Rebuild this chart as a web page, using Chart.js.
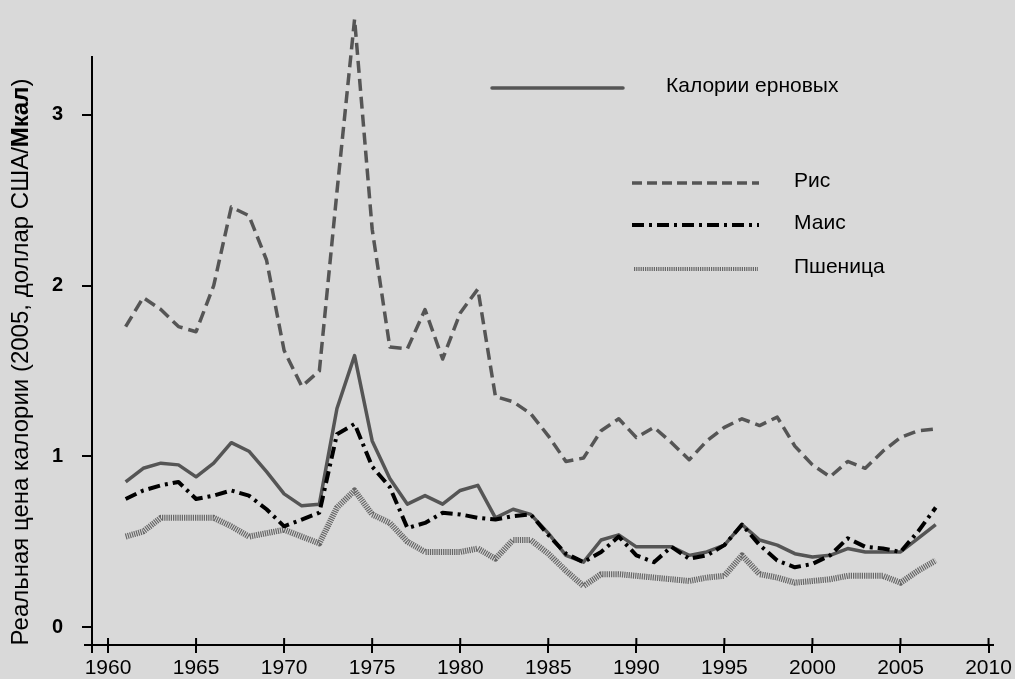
<!DOCTYPE html>
<html>
<head>
<meta charset="utf-8">
<script src="https://cdn.jsdelivr.net/npm/chart.js@4/dist/chart.umd.min.js"></script>
<style>
  body { margin: 0; background: #d9d9d9; }
  #wrap { width: 1015px; height: 679px; position: relative; }
</style>
</head>
<body>
<div id="wrap"><canvas id="priceChart"></canvas></div>
<script>
// series names, years and values
const seriesNames = ["Калории ерновых", "Рис", "Маис", "Пшеница"]
const years = [1961, 1962, 1963, 1964, 1965, 1966, 1967, 1968, 1969, 1970,
  1971, 1972, 1973, 1974, 1975, 1976, 1977, 1978, 1979, 1980,
  1981, 1982, 1983, 1984, 1985, 1986, 1987, 1988, 1989, 1990,
  1991, 1992, 1993, 1994, 1995, 1996, 1997, 1998, 1999, 2000,
  2001, 2002, 2003, 2004, 2005, 2006, 2007]
const cereal = [0.85, 0.93, 0.96, 0.95, 0.88, 0.96, 1.08, 1.03, 0.91, 0.78,
  0.71, 0.72, 1.28, 1.59, 1.09, 0.87, 0.72, 0.77, 0.72, 0.80,
  0.83, 0.64, 0.69, 0.66, 0.55, 0.42, 0.38, 0.51, 0.54, 0.47,
  0.47, 0.47, 0.42, 0.44, 0.48, 0.60, 0.51, 0.48, 0.43, 0.41,
  0.42, 0.46, 0.44, 0.44, 0.44, 0.52, 0.60]
const rice = [1.76, 1.93, 1.86, 1.76, 1.73, 2.00, 2.46, 2.41, 2.15, 1.62,
  1.41, 1.50, 2.55, 3.56, 2.33, 1.64, 1.63, 1.86, 1.57, 1.84,
  1.98, 1.35, 1.32, 1.25, 1.12, 0.97, 0.99, 1.15, 1.22, 1.11,
  1.17, 1.08, 0.98, 1.09, 1.17, 1.22, 1.18, 1.23, 1.06, 0.95,
  0.88, 0.97, 0.93, 1.03, 1.11, 1.15, 1.16]
const maize = [0.75, 0.80, 0.83, 0.85, 0.75, 0.77, 0.80, 0.77, 0.69, 0.59,
  0.63, 0.67, 1.13, 1.19, 0.94, 0.82, 0.58, 0.61, 0.67, 0.66,
  0.64, 0.63, 0.65, 0.66, 0.54, 0.43, 0.38, 0.44, 0.53, 0.42,
  0.38, 0.47, 0.40, 0.42, 0.48, 0.60, 0.48, 0.39, 0.35, 0.37,
  0.42, 0.52, 0.47, 0.46, 0.44, 0.56, 0.70]
const wheat = [0.53, 0.56, 0.64, 0.64, 0.64, 0.64, 0.59, 0.53, 0.55, 0.57,
  0.53, 0.49, 0.70, 0.80, 0.66, 0.61, 0.50, 0.44, 0.44, 0.44,
  0.46, 0.40, 0.51, 0.51, 0.43, 0.33, 0.24, 0.31, 0.31, 0.30,
  0.29, 0.28, 0.27, 0.29, 0.30, 0.42, 0.31, 0.29, 0.26, 0.27,
  0.28, 0.30, 0.30, 0.30, 0.26, 0.33, 0.39]
const xTicks = [1960, 1965, 1970, 1975, 1980, 1985, 1990, 1995, 2000, 2005, 2010]
const yTicks = [0, 1, 2, 3]
const yTitle = ["Реальная цена калории (2005, доллар США/", "Мкал", ")"]

const FONT = "'Liberation Sans', Arial, sans-serif"

function pts(vals){
  return years.map((yr, i) => ({x: yr, y: vals[i]}))
}

// line styles, same order as seriesNames
const styles = [
  {color: "#555555", width: 3.5, dash: []},
  {color: "#555555", width: 3.5, dash: [12, 6]},
  {color: "#000000", width: 4, dash: [12, 5, 3, 5]},
  {color: "#666666", width: 6, dash: [1.2, 1]}
]
const allValues = [cereal, rice, maize, wheat]

// drawing order: maize on top, wheat at the bottom
const drawOrder = [2, 0, 1, 3]
const datasets = drawOrder.map(i => ({
  label: seriesNames[i],
  data: pts(allValues[i]),
  borderColor: styles[i].color,
  borderWidth: styles[i].width,
  borderDash: styles[i].dash,
  borderJoinStyle: "round",
  pointRadius: 0,
  tension: 0,
  clip: false
}))

// axis details the scales can't do: ticks crossing the x axis, axis ends
const axisExtras = {
  id: "axisExtras",
  afterDraw(chart){
    const ctx = chart.ctx
    const a = chart.chartArea
    const xs = chart.scales.x
    ctx.save()
    ctx.strokeStyle = "#000"
    ctx.lineWidth = 2
    ctx.beginPath()
    xTicks.forEach(v => {
      const px = xs.getPixelForValue(v)
      ctx.moveTo(px, a.bottom - 7)
      ctx.lineTo(px, a.bottom)
    })
    ctx.moveTo(a.left, a.bottom)
    ctx.lineTo(a.left, a.bottom + 8)
    ctx.moveTo(a.left - 8, a.bottom)
    ctx.lineTo(a.left, a.bottom)
    ctx.stroke()
    ctx.restore()
  }
}

// rotated y title with the bold unit
const yTitlePlugin = {
  id: "yTitlePlugin",
  afterDraw(chart){
    const ctx = chart.ctx
    const normal = "24px " + FONT
    const bold = "bold 24px " + FONT
    ctx.save()
    ctx.font = normal
    const w0 = ctx.measureText(yTitle[0]).width
    const w2 = ctx.measureText(yTitle[2]).width
    ctx.font = bold
    const w1 = ctx.measureText(yTitle[1]).width
    const total = w0 + w1 + w2
    ctx.translate(21, 362)
    ctx.rotate(-Math.PI / 2)
    ctx.fillStyle = "#000"
    ctx.textBaseline = "middle"
    ctx.textAlign = "left"
    let x = -total / 2
    ctx.font = normal
    ctx.fillText(yTitle[0], x, 0)
    x += w0
    ctx.font = bold
    ctx.fillText(yTitle[1], x, 0)
    x += w1
    ctx.font = normal
    ctx.fillText(yTitle[2], x, 0)
    ctx.restore()
  }
}

// legend placed inside the plot like in the original
const legendSpots = [
  {x1: 492, x2: 623, y: 88, tx: 666, lw: 3.5},
  {x1: 632, x2: 759, y: 183, tx: 794, lw: 3.5},
  {x1: 632, x2: 759, y: 225, tx: 794, lw: 4},
  {x1: 634, x2: 758, y: 269, tx: 794, lw: 4}
]
const legendPlugin = {
  id: "legendPlugin",
  afterDraw(chart){
    const ctx = chart.ctx
    ctx.save()
    seriesNames.forEach((name, i) => {
      const s = styles[i]
      const p = legendSpots[i]
      ctx.beginPath()
      ctx.strokeStyle = s.color
      ctx.lineWidth = p.lw
      ctx.setLineDash(i == 1 ? [10, 5] : s.dash)
      ctx.lineCap = i == 0 ? "round" : "butt"
      ctx.moveTo(p.x1, p.y)
      ctx.lineTo(p.x2, p.y)
      ctx.stroke()
      ctx.setLineDash([])
      ctx.fillStyle = "#000"
      ctx.font = "21px " + FONT
      ctx.textBaseline = "middle"
      ctx.fillText(name, p.tx, p.y - 2)
    })
    ctx.restore()
  }
}

new Chart("priceChart", {
  type: "line",
  data: {datasets: datasets},
  options: {
    responsive: true,
    maintainAspectRatio: false,
    animation: false,
    layout: {padding: {left: 0, top: 57, right: 20, bottom: 0}},
    plugins: {legend: {display: false}, tooltip: {enabled: false}},
    scales: {
      x: {
        type: "linear",
        min: 1959.09,
        max: 2010.23,
        afterBuildTicks: s => { s.ticks = xTicks.map(v => ({value: v})) },
        afterFit: s => { s.height = 34 },
        grid: {drawOnChartArea: false, drawTicks: true, tickLength: 8, color: "#000", lineWidth: 2},
        border: {display: true, color: "#000", width: 2},
        ticks: {color: "#000", font: {family: FONT, size: 21}, padding: 3, maxRotation: 0,
          callback: v => String(v)}
      },
      y: {
        min: -0.105,
        max: 3.339,
        afterBuildTicks: s => { s.ticks = yTicks.map(v => ({value: v})) },
        afterFit: s => { s.width = 92 },
        grid: {drawOnChartArea: false, drawTicks: true, tickLength: 10, color: "#000", lineWidth: 2},
        border: {display: true, color: "#000", width: 2},
        ticks: {color: "#000", font: {family: FONT, size: 20, weight: "bold"}, padding: 19,
          callback: v => String(v)}
      }
    }
  },
  plugins: [axisExtras, yTitlePlugin, legendPlugin]
})
</script>
</body>
</html>
